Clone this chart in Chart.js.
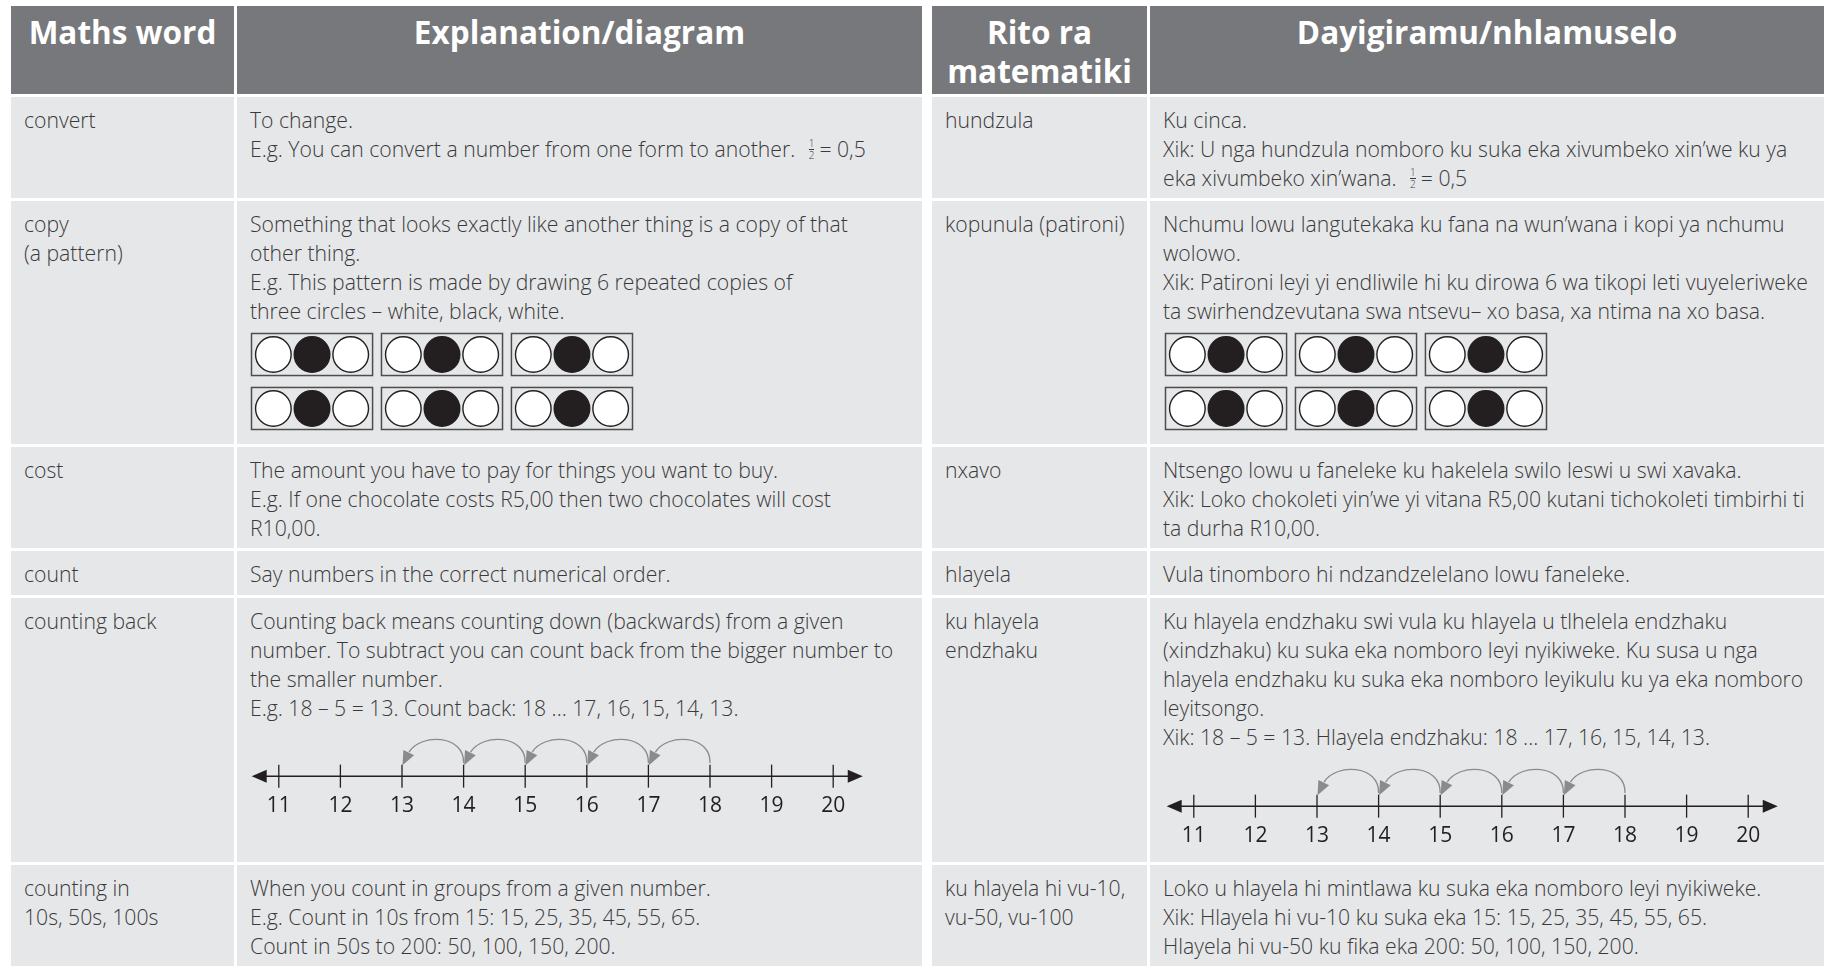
<!DOCTYPE html>
<html lang="en">
<head>
    <meta charset="UTF-8">
    <title>Maths words</title>
    <style>
        body {
            margin: 0;
            background: #fff;
            width: 1824px;
            height: 966px;
            overflow: hidden;
            font-family: 'Open Sans', sans-serif;
        }
        .grid {
            position: absolute;
            top: 6px;
            display: grid;
            gap: 3px;
            background: #fff;
            grid-template-rows: 88px 101px 243px 101px 44px 264px 101px;
        }
        #left {
            left: 11px;
            grid-template-columns: 223px 685px;
        }
        #right {
            left: 932px;
            grid-template-columns: 215px 674px;
        }
        .h {
            background: #77787b;
            color: #fff;
            font-weight: 700;
            font-size: 31.5px;
            line-height: 38.5px;
            text-align: center;
            padding-top: 7px;
            box-sizing: border-box;
            white-space: nowrap;
        }
        .c {
            background: #e6e7e8;
            color: #3a3a3c;
            font-weight: 300;
            font-size: 21.2px;
            line-height: 29px;
            padding: 8px 0 0 13px;
            white-space: nowrap;
            position: relative;
            overflow: hidden;
            box-sizing: border-box;
        }
        .frac {
            display: inline-block;
            vertical-align: middle;
            font-size: 10px;
            line-height: 11px;
            text-align: center;
            margin: -4px 5px 0 8px;
        }
        .frac span { display: block; }
        .frac span:first-child { border-bottom: 1px solid #3a3a3c; }
        canvas { position: absolute; }
    </style>
</head>
<body>
    <div class="grid" id="left">
        <div class="h">Maths word</div>
        <div class="h">Explanation/diagram</div>

        <div class="c">convert</div>
        <div class="c">To change.<br>E.g. You can convert a number from one form to another. <span class="frac"><span>1</span><span>2</span></span>= 0,5</div>

        <div class="c">copy<br>(a pattern)</div>
        <div class="c">Something that looks exactly like another thing is a copy of that<br>other thing.<br>E.g. This pattern is made by drawing 6 repeated copies of<br>three circles – white, black, white.
            <canvas id="patternLeft" width="384" height="99" style="left:13px; top:131px;"></canvas>
        </div>

        <div class="c">cost</div>
        <div class="c">The amount you have to pay for things you want to buy.<br>E.g. If one chocolate costs R5,00 then two chocolates will cost<br>R10,00.</div>

        <div class="c">count</div>
        <div class="c">Say numbers in the correct numerical order.</div>

        <div class="c">counting back</div>
        <div class="c">Counting back means counting down (backwards) from a given<br>number. To subtract you can count back from the bigger number to<br>the smaller number.<br>E.g. 18 – 5 = 13. Count back: 18 ... 17, 16, 15, 14, 13.
            <canvas id="lineLeft" width="616" height="100" style="left:11px; top:130px;"></canvas>
        </div>

        <div class="c">counting in<br>10s, 50s, 100s</div>
        <div class="c">When you count in groups from a given number.<br>E.g. Count in 10s from 15: 15, 25, 35, 45, 55, 65.<br>Count in 50s to 200: 50, 100, 150, 200.</div>
    </div>

    <div class="grid" id="right">
        <div class="h">Rito ra<br>matematiki</div>
        <div class="h">Dayigiramu/nhlamuselo</div>

        <div class="c">hundzula</div>
        <div class="c">Ku cinca.<br>Xik: U nga hundzula nomboro ku suka eka xivumbeko xin’we ku ya<br>eka xivumbeko xin’wana. <span class="frac"><span>1</span><span>2</span></span>= 0,5</div>

        <div class="c">kopunula (patironi)</div>
        <div class="c">Nchumu lowu langutekaka ku fana na wun’wana i kopi ya nchumu<br>wolowo.<br>Xik: Patironi leyi yi endliwile hi ku dirowa 6 wa tikopi leti vuyeleriweke<br>ta swirhendzevutana swa ntsevu– xo basa, xa ntima na xo basa.
            <canvas id="patternRight" width="384" height="99" style="left:14px; top:131px;"></canvas>
        </div>

        <div class="c">nxavo</div>
        <div class="c">Ntsengo lowu u faneleke ku hakelela swilo leswi u swi xavaka.<br>Xik: Loko chokoleti yin’we yi vitana R5,00 kutani tichokoleti timbirhi ti<br>ta durha R10,00.</div>

        <div class="c">hlayela</div>
        <div class="c">Vula tinomboro hi ndzandzelelano lowu faneleke.</div>

        <div class="c">ku hlayela<br>endzhaku</div>
        <div class="c">Ku hlayela endzhaku swi vula ku hlayela u tlhelela endzhaku<br>(xindzhaku) ku suka eka nomboro leyi nyikiweke. Ku susa u nga<br>hlayela endzhaku ku suka eka nomboro leyikulu ku ya eka nomboro<br>leyitsongo.<br>Xik: 18 – 5 = 13. Hlayela endzhaku: 18 ... 17, 16, 15, 14, 13.
            <canvas id="lineRight" width="616" height="100" style="left:13px; top:160px;"></canvas>
        </div>

        <div class="c">ku hlayela hi vu-10,<br>vu-50, vu-100</div>
        <div class="c">Loko u hlayela hi mintlawa ku suka eka nomboro leyi nyikiweke.<br>Xik: Hlayela hi vu-10 ku suka eka 15: 15, 25, 35, 45, 55, 65.<br>Hlayela hi vu-50 ku fika eka 200: 50, 100, 150, 200.</div>
    </div>

    <script src="https://cdn.jsdelivr.net/npm/chart.js"></script>
    <script>
        // number line: 18 - 5 = 13, counting back one at a time
        const numberLineTicks = [11, 12, 13, 14, 15, 16, 17, 18, 19, 20];
        const jumpFrom = [18, 17, 16, 15, 14];
        const jumpTo = [17, 16, 15, 14, 13];

        // pattern: one copy is three circles, drawn 6 times (2 rows x 3)
        const patternUnit = ['white', 'black', 'white'];
        const patternRows = 2;
        const patternCols = 3;

        const INK = '#231f20';
        const ARC = '#8b8b8d';
        const FILL = { white: '#ffffff', black: '#231f20' };

        Chart.defaults.font.family = "'Open Sans', sans-serif";
        Chart.defaults.animation = false;

        // arrows at both ends and the jump arcs, placed with the chart's own scales
        const jumpsPlugin = {
            id: 'jumps',
            afterDatasetsDraw(chart) {
                const ctx = chart.ctx;
                const x = chart.scales.x;
                const y = chart.scales.y;
                const yA = y.getPixelForValue(0);
                const lo = x.getPixelForValue(numberLineTicks[0] - 0.44);
                const hi = x.getPixelForValue(numberLineTicks[numberLineTicks.length - 1] + 0.48);

                ctx.save();
                ctx.fillStyle = INK;
                ctx.beginPath();
                ctx.moveTo(lo, yA);
                ctx.lineTo(lo + 15, yA - 6.5);
                ctx.lineTo(lo + 15, yA + 6.5);
                ctx.closePath();
                ctx.fill();
                ctx.beginPath();
                ctx.moveTo(hi, yA);
                ctx.lineTo(hi - 15, yA - 6.5);
                ctx.lineTo(hi - 15, yA + 6.5);
                ctx.closePath();
                ctx.fill();

                ctx.strokeStyle = ARC;
                ctx.fillStyle = ARC;
                ctx.lineWidth = 1.3;
                jumpFrom.forEach((from, i) => {
                    const xs = x.getPixelForValue(from);
                    const xe = x.getPixelForValue(jumpTo[i]);
                    const w = xs - xe;
                    const endX = xe + 7, endY = yA - 24;
                    ctx.beginPath();
                    ctx.moveTo(xs, yA - 13);
                    ctx.bezierCurveTo(xs + 1, yA - 42, xe + w * 0.3, yA - 43, endX, endY);
                    ctx.stroke();

                    // arrow head pointing down onto the next number
                    const tipX = xe + 0.5, tipY = yA - 11;
                    let dx = tipX - endX, dy = tipY - endY;
                    const len = Math.hypot(dx, dy);
                    dx /= len; dy /= len;
                    const bx = tipX - dx * 14, by = tipY - dy * 14;
                    ctx.beginPath();
                    ctx.moveTo(tipX, tipY);
                    ctx.lineTo(bx - dy * 6, by + dx * 6);
                    ctx.lineTo(bx + dy * 6, by - dx * 6);
                    ctx.closePath();
                    ctx.fill();
                });
                ctx.restore();
            }
        };

        function createNumberLine(canvasId) {
            const first = numberLineTicks[0];
            const last = numberLineTicks[numberLineTicks.length - 1];
            new Chart(document.getElementById(canvasId), {
                type: 'scatter',
                data: {
                    datasets: [
                        {
                            // the number line itself
                            type: 'line',
                            data: [{ x: first - 0.4, y: 0 }, { x: last + 0.4, y: 0 }],
                            borderColor: INK,
                            borderWidth: 1.5,
                            pointRadius: 0
                        },
                        {
                            // one tick per whole number
                            data: numberLineTicks.map(v => ({ x: v, y: 0 })),
                            pointStyle: 'line',
                            rotation: 90,
                            pointRadius: 11.5,
                            borderColor: INK,
                            borderWidth: 1.3
                        }
                    ]
                },
                options: {
                    responsive: false,
                    events: [],
                    layout: { padding: 0, autoPadding: false },
                    clip: false,
                    plugins: { legend: { display: false }, tooltip: { enabled: false } },
                    scales: {
                        x: {
                            type: 'linear',
                            min: first - 0.5,
                            max: last + 0.5,
                            grid: { display: false, drawTicks: false },
                            border: { display: false },
                            afterBuildTicks: axis => {
                                axis.ticks = numberLineTicks.map(v => ({ value: v }));
                            },
                            ticks: {
                                autoSkip: false,
                                maxRotation: 0,
                                padding: 9,
                                color: INK,
                                font: { size: 21 },
                                callback: v => v
                            }
                        },
                        y: { display: false, min: -0.18, max: 1 }
                    }
                },
                plugins: [jumpsPlugin]
            });
        }

        // geometry of a copy, in circle widths
        const BOX_W = 3.13, BOX_H = 1.09, BOX_GAP = 0.23, ROW_GAP = 0.31;

        const boxesPlugin = {
            id: 'boxes',
            beforeDatasetsDraw(chart) {
                const ctx = chart.ctx;
                const x = chart.scales.x;
                const y = chart.scales.y;
                ctx.save();
                ctx.strokeStyle = '#4d4d4f';
                ctx.lineWidth = 1.5;
                for (let r = 0; r < patternRows; r++) {
                    for (let c = 0; c < patternCols; c++) {
                        const x0 = x.getPixelForValue(c * (BOX_W + BOX_GAP));
                        const x1 = x.getPixelForValue(c * (BOX_W + BOX_GAP) + BOX_W);
                        const y0 = y.getPixelForValue(r * (BOX_H + ROW_GAP));
                        const y1 = y.getPixelForValue(r * (BOX_H + ROW_GAP) + BOX_H);
                        ctx.strokeRect(x0, y0, x1 - x0, y1 - y0);
                    }
                }
                ctx.restore();
            }
        };

        function createPattern(canvasId) {
            const points = [];
            const colors = [];
            const inset = (BOX_W - (patternUnit.length - 1)) / 2;
            for (let r = 0; r < patternRows; r++) {
                for (let c = 0; c < patternCols; c++) {
                    patternUnit.forEach((colour, i) => {
                        points.push({
                            x: c * (BOX_W + BOX_GAP) + inset + i,
                            y: r * (BOX_H + ROW_GAP) + BOX_H / 2
                        });
                        colors.push(FILL[colour]);
                    });
                }
            }
            new Chart(document.getElementById(canvasId), {
                type: 'scatter',
                data: {
                    datasets: [{
                        data: points,
                        pointRadius: 17.8,
                        pointBackgroundColor: colors,
                        pointBorderColor: INK,
                        borderWidth: 1.4
                    }]
                },
                options: {
                    responsive: false,
                    events: [],
                    layout: { padding: 1.5, autoPadding: false },
                    clip: false,
                    plugins: { legend: { display: false }, tooltip: { enabled: false } },
                    scales: {
                        x: {
                            display: false,
                            min: 0,
                            max: patternCols * BOX_W + (patternCols - 1) * BOX_GAP
                        },
                        y: {
                            display: false,
                            reverse: true,
                            min: 0,
                            max: patternRows * BOX_H + (patternRows - 1) * ROW_GAP
                        }
                    }
                },
                plugins: [boxesPlugin]
            });
        }

        createPattern('patternLeft');
        createPattern('patternRight');
        createNumberLine('lineLeft');
        createNumberLine('lineRight');
    </script>
</body>
</html>
